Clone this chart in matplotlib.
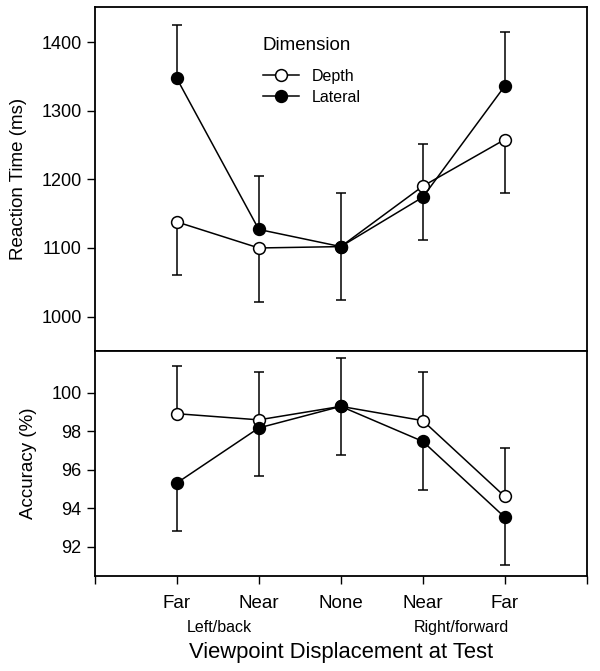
import numpy as np
import matplotlib
matplotlib.use("Agg")
import matplotlib.pyplot as plt

plt.rcParams['font.family'] = ['Liberation Sans', 'DejaVu Sans']

# === Data ===
x_pos = [1, 2, 3, 4, 5]
x_labels = ["Far", "Near", "None", "Near", "Far"]

rt_depth = [1138, 1100, 1102, 1190, 1258]
rt_lateral = [1347, 1127, 1102, 1174, 1336]
rt_err = [78, 78, 78, 78, 78]

acc_depth = [98.92, 98.6, 99.3, 98.56, 94.62]
acc_lateral = [95.32, 98.18, 99.3, 97.48, 93.54]
acc_err = [2.5, 2.5, 2.5, 2.5, 2.5]

zeros = [0, 0, 0, 0, 0]

fig = plt.figure(figsize=(6.0, 6.71), dpi=100)
ax1 = fig.add_axes([0.158, 0.477, 0.820, 0.5125])
ax2 = fig.add_axes([0.158, 0.1416, 0.820, 0.3354])

lw = 1.1
ms = 8.5

# --- Reaction time ---
ax1.errorbar(x_pos, rt_depth, yerr=[rt_err, zeros], fmt="none", ecolor="black",
             elinewidth=lw, capsize=3.5, capthick=lw, zorder=1)
ax1.errorbar(x_pos, rt_lateral, yerr=[zeros, rt_err], fmt="none", ecolor="black",
             elinewidth=lw, capsize=3.5, capthick=lw, zorder=1)
ax1.plot(x_pos, rt_depth, "-o", color="black", mfc="white", mec="black", ms=ms,
         lw=lw, mew=lw, label="Depth", zorder=3)
ax1.plot(x_pos, rt_lateral, "-o", color="black", mfc="black", mec="black", ms=ms,
         lw=lw, mew=lw, label="Lateral", zorder=4)
ax1.set_xlim(0, 6)
ax1.set_ylim(950, 1451)
ax1.set_yticks([1000, 1100, 1200, 1300, 1400])
ax1.set_xticks(x_pos)
ax1.tick_params(axis="x", direction="out", length=6, width=1, labelbottom=False)
ax1.tick_params(axis="y", direction="out", length=6, width=1, labelsize=13, pad=3.5)
ax1.set_ylabel("Reaction Time (ms)", fontsize=13.5, labelpad=10)
ax1.legend(loc="upper left", bbox_to_anchor=(0.341, 0.82), borderaxespad=0,
           borderpad=0, frameon=False, fontsize=11.5, handlelength=2.3,
           handletextpad=0.75, labelspacing=0.35)
ax1.text(0.431, 0.8895, "Dimension", transform=ax1.transAxes, ha="center",
         va="center", fontsize=13.5)

# --- Accuracy ---
ax2.errorbar(x_pos, acc_depth, yerr=[zeros, acc_err], fmt="none", ecolor="black",
             elinewidth=lw, capsize=3.5, capthick=lw, zorder=1)
ax2.errorbar(x_pos, acc_lateral, yerr=[acc_err, zeros], fmt="none", ecolor="black",
             elinewidth=lw, capsize=3.5, capthick=lw, zorder=1)
ax2.plot(x_pos, acc_depth, "-o", color="black", mfc="white", mec="black", ms=ms,
         lw=lw, mew=lw, zorder=3)
ax2.plot(x_pos, acc_lateral, "-o", color="black", mfc="black", mec="black", ms=ms,
         lw=lw, mew=lw, zorder=4)
ax2.set_xlim(0, 6)
ax2.set_ylim(90.49, 102.18)
ax2.set_yticks([92, 94, 96, 98, 100])
ax2.set_xticks(range(7))
ax2.set_xticklabels([""] + x_labels + [""])
ax2.tick_params(axis="x", direction="out", length=6, width=1, labelsize=13.5, pad=8)
ax2.tick_params(axis="y", direction="out", length=6, width=1, labelsize=13, pad=3.5)
ax2.set_ylabel("Accuracy (%)", fontsize=13.5, labelpad=10)
ax2.set_xlabel("Viewpoint Displacement at Test", fontsize=15.8, labelpad=21)
ax2.text(1.52, -0.231, "Left/back", transform=ax2.get_xaxis_transform(),
         ha="center", va="center", fontsize=11.5)
ax2.text(4.47, -0.231, "Right/forward", transform=ax2.get_xaxis_transform(),
         ha="center", va="center", fontsize=11.5)

for ax in (ax1, ax2):
    for s in ax.spines.values():
        s.set_linewidth(1.3)

fig.savefig("out.png", dpi=100)
